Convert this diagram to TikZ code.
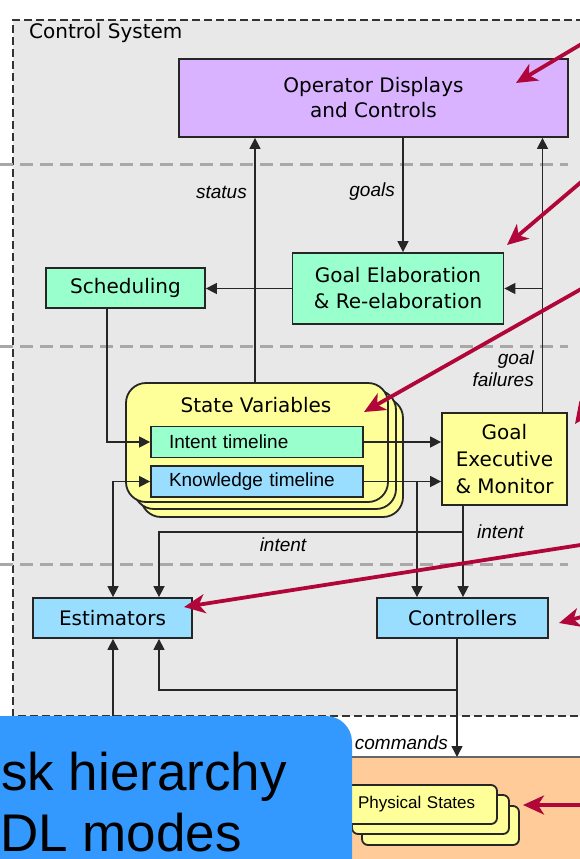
\documentclass[tikz,border=0pt]{standalone}
\usepackage{fontspec}
\setmainfont{DejaVu Sans}
\newfontfamily\lib{Liberation Sans}
\usetikzlibrary{arrows.meta,calc}
\definecolor{cbg}{HTML}{E8E8E8}
\definecolor{clav}{HTML}{D9B3FF}
\definecolor{cmint}{HTML}{99FFCC}
\definecolor{cblue}{HTML}{99DDFF}
\definecolor{cyel}{HTML}{FFFF99}
\definecolor{corange}{HTML}{FFCC99}
\definecolor{cred}{HTML}{B0063A}
\definecolor{cover}{HTML}{3399FF}
\definecolor{csep}{HTML}{A8A8A8}
\begin{document}
\begin{tikzpicture}[x=1pt,y=-1pt,
  box/.style={draw=black!85, line width=1.8pt, inner sep=0pt, align=center, font=\fontsize{20}{26}\selectfont},
  tlbox/.style={draw=black!85, line width=1.8pt, inner xsep=18pt, inner ysep=0pt, text width=176pt, align=left, minimum height=31pt, font=\lib\fontsize{19}{22}\selectfont},
  conn/.style={draw=black!85, line width=1.5pt, -{Triangle[length=11pt,width=11pt]}},
  connboth/.style={draw=black!85, line width=1.5pt, {Triangle[length=11pt,width=11pt]}-{Triangle[length=11pt,width=11pt]}},
  lbl/.style={font=\lib\itshape\fontsize{19}{22}\selectfont, inner sep=0pt},
  redarrow/.style={draw=cred, line width=3.8pt, -{Stealth[length=21pt,width=19pt,inset=6pt]}},
  sepline/.style={draw=csep, line width=3pt, dash pattern=on 13pt off 7pt},
  stackbox/.style={draw=black!85, line width=1.8pt, fill=cyel, rounded corners=20pt},
  psstack/.style={draw=black!85, line width=1.8pt, fill=cyel, rounded corners=6pt}
]
\useasboundingbox (0,0) rectangle (580,859);
\clip (0,0) rectangle (580,859);
\fill[white] (0,0) rectangle (580,859);
% control system region
\fill[cbg] (13,20) rectangle (620,716);
\draw[black!80, line width=1.5pt, dash pattern=on 8pt off 4pt] (620,20) -- (13,20) -- (13,716) -- (620,716);
\node[anchor=west, inner sep=0pt, font=\fontsize{20}{24}\selectfont] (cstitle) at (29,33) {Control System};
% separators
\draw[sepline] (0,164) -- (568,164);
\draw[sepline] (0,346) -- (568,346);
\draw[sepline] (0,564) -- (568,564);
% boxes
\node[box, fill=clav, minimum width=389pt, minimum height=78pt, font=\fontsize{20}{25}\selectfont] (op) at (373.5,98) {Operator Displays\\and Controls};
\node[box, fill=cmint, minimum width=211pt, minimum height=71pt] (ge) at (398,288.5) {Goal Elaboration\\\& Re-elaboration};
\node[box, fill=cmint, minimum width=159pt, minimum height=40pt] (sch) at (125.5,288) {Scheduling};
\draw[stackbox] (141,398) rectangle (403,517);
\draw[stackbox] (134,390) rectangle (396,509);
\node[stackbox, minimum width=262pt, minimum height=119pt, inner sep=0pt] (sv) at (257,442.5) {};
\node[inner sep=0pt, font=\fontsize{20}{24}\selectfont] (svtitle) at (256,405) {State Variables};
\node[tlbox, fill=cmint] (it) at (257,442) {Intent timeline};
\node[tlbox, fill=cblue] (kt) at (257,481.5) {Knowledge timeline};
\node[box, fill=cyel, minimum width=125pt, minimum height=92pt, font=\fontsize{20}{27}\selectfont] (gem) at (504.5,459) {Goal\\Executive\\\& Monitor};
\node[box, fill=cblue, minimum width=159pt, minimum height=40pt] (est) at (112.5,618) {Estimators};
\node[box, fill=cblue, minimum width=171pt, minimum height=40pt] (ctl) at (462.5,618) {Controllers};
% column and row coordinates
\coordinate (cS) at (255,0);
\coordinate (cG) at (403,0);
\coordinate (cR) at (542.5,0);
\coordinate (cSch) at (107,0);
\coordinate (cK) at (417,0);
\coordinate (cI) at (463,0);
\coordinate (cE1) at (113,0);
\coordinate (cE2) at (159,0);
\coordinate (cC) at (457,0);
\coordinate (rI) at (0,532);
\coordinate (rC) at (0,690);
\coordinate (otop) at (0,757);
\coordinate (meas) at (113,790);
% connectors
\draw[conn] (sv.north -| cS) -- (op.south -| cS);
\draw[conn] (op.south -| cG) -- (ge.north -| cG);
\draw[conn] (gem.north -| cR) -- (op.south -| cR);
\draw[conn] (cR |- ge.east) -- (ge.east);
\draw[conn] (ge.west) -- (sch.east |- ge.west);
\draw[conn] (sch.south -| cSch) |- (it.west);
\draw[conn] (it.east) -- (gem.west |- it.east);
\draw[conn] (kt.east) -- (gem.west |- kt.east);
\draw[conn] (cK |- kt.east) -- (ctl.north -| cK);
\draw[connboth] (est.north -| cE1) |- (kt.west);
\draw[conn] (gem.south -| cI) -- (ctl.north -| cI);
\draw[conn] (cI |- rI) -| (est.north -| cE2);
\draw[conn] (cC |- rC) -| (est.south -| cE2);
\draw[conn] (meas) -- (est.south -| cE1);
% labels
\node[lbl, anchor=east] (lstatus) at (247,192) {status};
\node[lbl, anchor=east] (lgoals) at (395,192) {goals};
\node[lbl, anchor=east, align=right] (lfail) at (534,369) {goal\\failures};
\node[lbl, anchor=west] (lint1) at (477,532) {intent};
\node[lbl] (lint2) at (283,545) {intent};
% physical world
\fill[corange] (352,757) rectangle (620,880);
\draw[black!60, line width=1.5pt] (352,757) -- (620,757);
\draw[conn] (ctl.south -| cC) -- (cC |- otop);
\node[lbl, anchor=east] (lcmd) at (448,743) {commands};
\draw[psstack] (362,806) rectangle (519,845);
\draw[psstack] (352,795) rectangle (509,834);
\node[psstack, inner xsep=18pt, inner ysep=0pt, text width=121pt, align=left, minimum height=39pt, font=\lib\fontsize{17}{20}\selectfont] (ps) at (418.5,804.5) {Physical States};
% red arrows
\coordinate (ra) at (590,39);   \coordinate (ta) at (516,83);
\coordinate (rb) at (590,174.5);\coordinate (tb) at (507,245);
\coordinate (rc) at (590,284);  \coordinate (tc) at (364,412);
\coordinate (rd) at (595,396);  \coordinate (td) at (575,424);
\coordinate (re) at (590,543.5);\coordinate (te) at (184,607);
\coordinate (rf) at (600,612);  \coordinate (tf) at (559,623);
\coordinate (rg) at (600,805);  \coordinate (tg) at (523,805);
\draw[redarrow] (ra) -- (ta);
\draw[redarrow] (rb) -- (tb);
\draw[redarrow] (rc) -- (tc);
\draw[redarrow] (rd) -- (td);
\draw[redarrow] (re) -- (te);
\draw[redarrow] (rf) -- (tf);
\draw[redarrow] (rg) -- (tg);
% overlay
\fill[cover, rounded corners=26pt] (-40,716) rectangle (352,900);
\node[anchor=base west, inner sep=0pt, font=\lib\fontsize{53}{62}\selectfont] (ov1) at (1,790) {sk hierarchy};
\node[anchor=base west, inner sep=0pt, font=\lib\fontsize{53}{62}\selectfont] (ov2) at (0,851) {DL modes};
\end{tikzpicture}
\end{document}
